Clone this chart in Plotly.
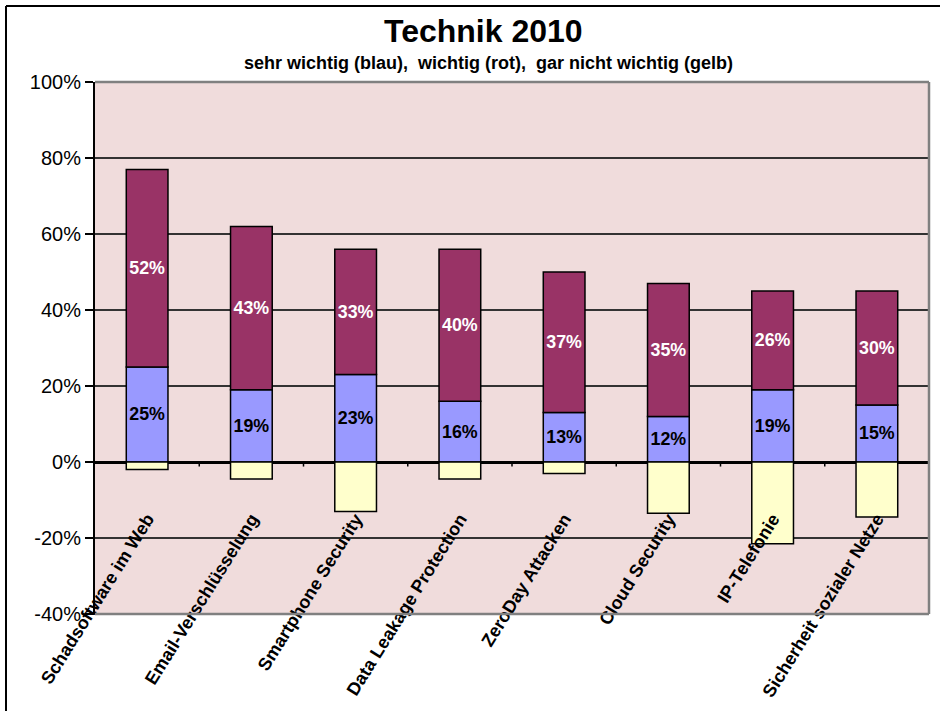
import plotly.graph_objects as go

# Survey results "Technik 2010"
categories = [
    "Schadsoftware im Web",
    "Email-Verschlüsselung",
    "Smartphone Security",
    "Data Leakage Protection",
    "ZeroDay Attacken",
    "Cloud Security",
    "IP-Telefonie",
    "Sicherheit sozialer Netze",
]
sehr_wichtig = [25, 19, 23, 16, 13, 12, 19, 15]          # blau
wichtig = [52, 43, 33, 40, 37, 35, 26, 30]               # rot
gar_nicht_wichtig = [-2, -4.5, -13, -4.5, -3, -13.5, -21.5, -14.5]  # gelb
y_ticks = [-40, -20, 0, 20, 40, 60, 80, 100]

FONT = "Liberation Sans, Arial, sans-serif"
idx = list(range(len(categories)))

fig = go.Figure()
bar_line = dict(color="black", width=1.5)

fig.add_trace(go.Bar(
    x=idx, y=sehr_wichtig, width=0.4, name="sehr wichtig",
    marker=dict(color="#9999FF", line=bar_line),
    text=[f"{v}%" for v in sehr_wichtig], textposition="inside",
    insidetextanchor="middle", textangle=0,
    textfont=dict(family=FONT, size=18, color="black", weight="bold"),
))
fig.add_trace(go.Bar(
    x=idx, y=wichtig, width=0.4, name="wichtig",
    marker=dict(color="#993366", line=bar_line),
    text=[f"{v}%" for v in wichtig], textposition="inside",
    insidetextanchor="middle", textangle=0,
    textfont=dict(family=FONT, size=18, color="white", weight="bold"),
))
fig.add_trace(go.Bar(
    x=idx, y=gar_nicht_wichtig, width=0.4, name="gar nicht wichtig",
    marker=dict(color="#FFFFCC", line=bar_line),
))

# small tick marks on the zero line between categories
bx, by = [], []
for i in range(len(categories) - 1):
    bx += [i + 0.5, i + 0.5, None]
    by += [0, -1.2, None]
fig.add_trace(go.Scatter(x=bx, y=by, mode="lines",
                         line=dict(color="black", width=1.5),
                         hoverinfo="skip", showlegend=False))

PLOT_L, PLOT_R, PLOT_T, PLOT_B = 95, 929, 82, 614
W, H = 948, 711
pw, ph = PLOT_R - PLOT_L, PLOT_B - PLOT_T


def px_x(x):
    return (x - PLOT_L) / pw


def px_y(y):
    return (PLOT_B - y) / ph


fig.update_layout(
    width=W, height=H,
    margin=dict(l=PLOT_L, r=W - PLOT_R, t=PLOT_T, b=H - PLOT_B, pad=0),
    paper_bgcolor="white",
    plot_bgcolor="#F0DCDC",
    barmode="relative",
    showlegend=False,
    font=dict(family=FONT, color="black"),
    xaxis=dict(
        range=[-0.5, len(categories) - 0.5],
        tickmode="array", tickvals=idx, ticktext=categories,
        tickangle=-58, automargin=False,
        tickfont=dict(family=FONT, size=18, color="black", weight="bold"),
        anchor="free", position=px_y(504),
        showline=False, showgrid=False, zeroline=False, ticks="",
    ),
    yaxis=dict(
        range=[-40, 100], automargin=False,
        tickmode="array", tickvals=y_ticks,
        ticktext=[f"{v}%" for v in y_ticks],
        tickfont=dict(family=FONT, size=20, color="black"),
        ticks="outside", ticklen=8, tickwidth=1.5, tickcolor="black",
        showgrid=True, gridcolor="#333333", gridwidth=1.5,
        zeroline=True, zerolinecolor="black", zerolinewidth=2.5,
        showline=True, linecolor="black", linewidth=2,
    ),
    shapes=[
        # plot frame: grey top/right/bottom edges
        dict(type="line", xref="paper", yref="paper", x0=0, x1=1, y0=1, y1=1,
             line=dict(color="#808080", width=2.5)),
        dict(type="line", xref="paper", yref="paper", x0=1, x1=1, y0=0, y1=1,
             line=dict(color="#808080", width=2.5)),
        dict(type="line", xref="paper", yref="paper", x0=0, x1=1, y0=0, y1=0,
             line=dict(color="#808080", width=2.5)),
        # chart border
        dict(type="line", xref="paper", yref="paper",
             x0=px_x(6), x1=px_x(940), y0=px_y(6), y1=px_y(6),
             line=dict(color="black", width=2)),
        dict(type="line", xref="paper", yref="paper",
             x0=px_x(6), x1=px_x(6), y0=px_y(6), y1=px_y(720),
             line=dict(color="black", width=2)),
    ],
    annotations=[
        dict(text="<b>Technik 2010</b>", xref="paper", yref="paper",
             x=px_x(483), y=px_y(31), xanchor="center", yanchor="middle",
             showarrow=False, font=dict(family=FONT, size=32, color="black")),
        dict(text="<b>sehr wichtig (blau),  wichtig (rot),  gar nicht wichtig (gelb)</b>",
             xref="paper", yref="paper",
             x=px_x(488), y=px_y(63), xanchor="center", yanchor="middle",
             showarrow=False, font=dict(family=FONT, size=18, color="black")),
    ],
)

fig.write_html("out.html")
